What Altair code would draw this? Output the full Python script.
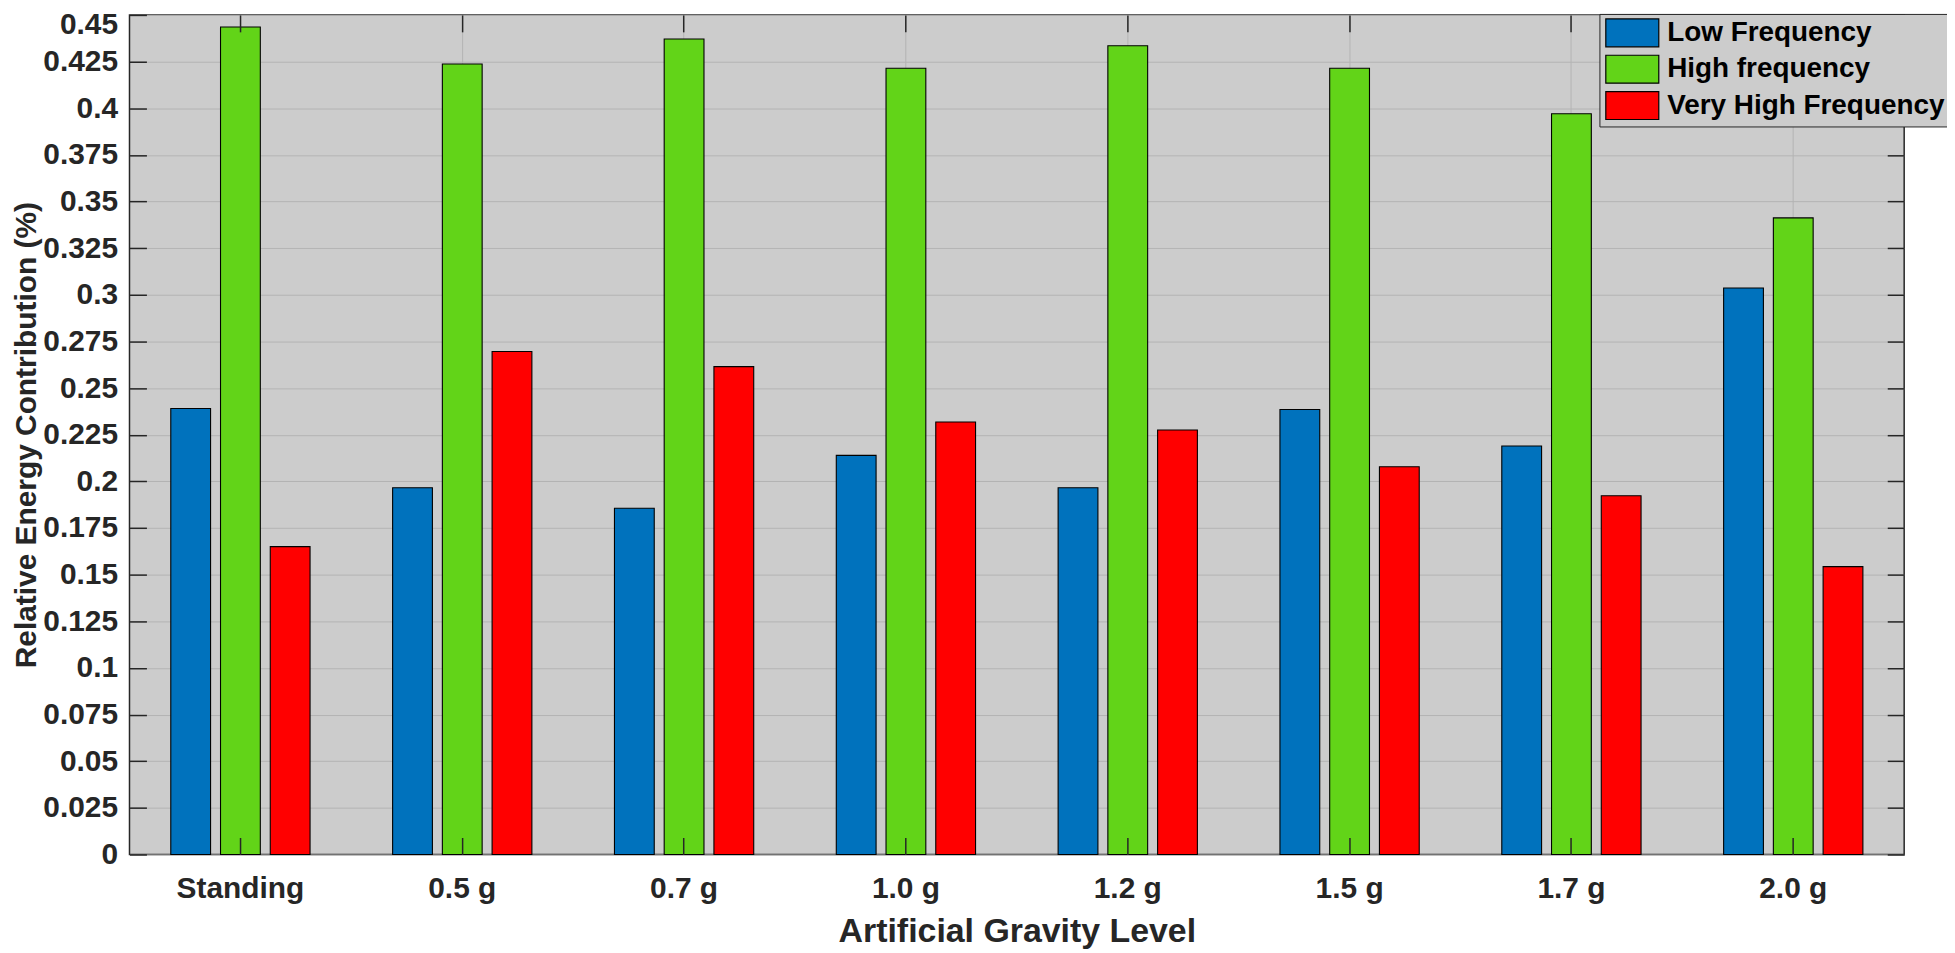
import altair as alt
import pandas as pd

levels = ["Standing", "0.5 g", "0.7 g", "1.0 g", "1.2 g", "1.5 g", "1.7 g", "2.0 g"]
bands = ["Low Frequency", "High frequency", "Very High Frequency"]
low = [0.239, 0.1966, 0.1856, 0.2139, 0.1966, 0.2385, 0.2189, 0.3036]
high = [0.4435, 0.4237, 0.4371, 0.4214, 0.4335, 0.4214, 0.3970, 0.3412]
very_high = [0.165, 0.2696, 0.2615, 0.2318, 0.2275, 0.2078, 0.1923, 0.1543]
colors = ["#0072BD", "#62D418", "#FF0000"]
y_ticks = [0, 0.025, 0.05, 0.075, 0.1, 0.125, 0.15, 0.175, 0.2, 0.225, 0.25,
           0.275, 0.3, 0.325, 0.35, 0.375, 0.4, 0.425, 0.45]

rows = []
for series, vals in zip(bands, [low, high, very_high]):
    for lvl, v in zip(levels, vals):
        rows.append({"level": lvl, "band": series, "value": v})
df = pd.DataFrame(rows)

FONT = "Liberation Sans"
AX = "#262626"

x_scale = alt.Scale(domain=levels, paddingInner=0, paddingOuter=0)
off_scale = alt.Scale(domain=bands, paddingInner=0.2, paddingOuter=0.83)
y_scale = alt.Scale(domain=[0, 0.45], nice=False, zero=True)
col_scale = alt.Scale(domain=bands, range=colors)

base = alt.Chart(df)

bars = base.mark_bar(stroke="black", strokeWidth=1.1).encode(
    x=alt.X("level:N", sort=levels, scale=x_scale,
            axis=alt.Axis(orient="bottom", grid=True, gridColor="#B3B3B3", gridWidth=1,
                          ticks=False, tickSize=0, domain=False, bandPosition=0.5,
                          labelFont=FONT, labelFontSize=30, labelFontWeight="bold",
                          labelColor=AX, labelPadding=19, labelAngle=0,
                          title="Artificial Gravity Level", titleFont=FONT,
                          titleFontSize=34, titleFontWeight="bold", titleColor=AX,
                          titlePadding=11, zindex=0)),
    xOffset=alt.XOffset("band:N", sort=bands, scale=off_scale),
    y=alt.Y("value:Q", scale=y_scale,
            axis=alt.Axis(orient="left", values=y_ticks, format=".3~f", grid=True,
                          gridColor="#B3B3B3", gridWidth=1, ticks=False, tickSize=0,
                          domain=False, labelFont=FONT, labelFontSize=30,
                          labelFontWeight="bold", labelColor=AX, labelPadding=12,
                          labelOffset={"condition": {"test": "datum.value > 0.449", "value": 10},
                                       "value": 0},
                          title="Relative Energy Contribution (%)", titleFont=FONT,
                          titleFontSize=30, titleFontWeight="bold", titleColor=AX,
                          titlePadding=1, zindex=0)),
    color=alt.Color("band:N", sort=bands, scale=col_scale,
                    legend=alt.Legend(title=None, orient="none", legendX=1476, legendY=-1,
                                      fillColor="#CCCCCC", strokeColor=AX, padding=4,
                                      symbolType="M-1.9,-1L1.9,-1L1.9,1L-1.9,1Z",
                                      symbolSize=784, symbolOffset=14,
                                      symbolStrokeColor="black",
                                      symbolStrokeWidth=1.2, symbolOpacity=1,
                                      labelFont=FONT, labelFontSize=28,
                                      labelFontWeight="bold", labelColor="black",
                                      labelOffset=20, labelLimit=500, rowPadding=2.5,
                                      zindex=3)),
)

def tick_layer(xo, yo):
    return base.mark_bar(opacity=0).encode(
        x=alt.X("level:N", sort=levels, scale=x_scale,
                axis=alt.Axis(orient=xo, labels=False, grid=False, ticks=True,
                              tickSize=17, offset=-17, domain=False, title=None,
                              tickColor=AX, tickWidth=1.5, bandPosition=0.5, zindex=1)),
        y=alt.Y("value:Q", scale=y_scale,
                axis=alt.Axis(orient=yo, values=y_ticks, labels=False, grid=False,
                              ticks=True, tickSize=17, offset=-17, domain=False,
                              title=None, tickColor=AX, tickWidth=1.5, zindex=1)),
    )

chart = alt.layer(bars, tick_layer("bottom", "left"), tick_layer("top", "right")).resolve_axis(
    x="independent", y="independent"
).properties(
    width=1782, height=843,
    autosize=alt.AutoSizeParams(type="none"),
    padding={"left": 122, "top": 5, "right": 43, "bottom": 97},
    background="white",
).configure_view(fill="#CCCCCC", stroke=AX, strokeWidth=1.5)

chart.save("out.html", embed_options={"renderer": "svg", "actions": False})
